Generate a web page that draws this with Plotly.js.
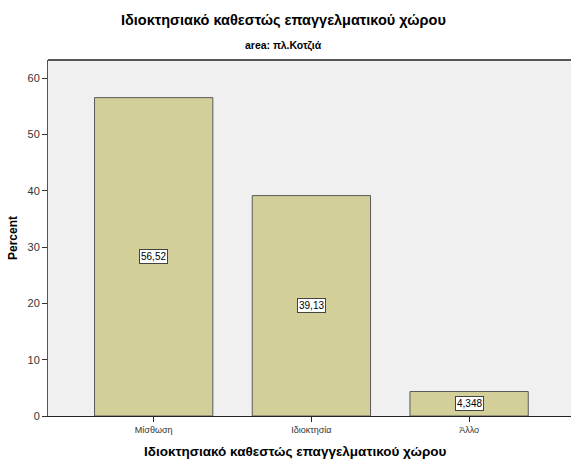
<!DOCTYPE html>
<html>
<head>
<meta charset="utf-8">
<script src="https://cdn.plot.ly/plotly-3.0.1.min.js"></script>
<style>html,body{margin:0;padding:0;background:#fff;}#chart{width:571px;height:459px;}</style>
</head>
<body>
<div id="chart"></div>
<script>
const categories = ["Μίσθωση", "Ιδιοκτησία", "Άλλο"];
const percents = [56.52, 39.13, 4.348];
const valueLabels = ["56,52", "39,13", "4,348"];
const yTicks = [0, 10, 20, 30, 40, 50, 60];

const trace = {
  type: 'bar',
  x: categories,
  y: percents,
  marker: { color: '#d3cf98', line: { color: '#5a5a5a', width: 1 } },
  hoverinfo: 'none'
};

const labelAnnotations = categories.map((c, i) => ({
  x: c, y: percents[i] / 2, xref: 'x', yref: 'y',
  text: valueLabels[i], showarrow: false,
  font: { family: 'Liberation Sans, Arial, sans-serif', size: 10, color: '#000' },
  bgcolor: '#ffffff', bordercolor: '#444', borderwidth: 1, borderpad: 1
}));

const layout = {
  width: 571, height: 459,
  margin: { l: 48, r: 0, t: 60, b: 43 },
  paper_bgcolor: '#ffffff',
  plot_bgcolor: '#f0f0f0',
  bargap: 0.25,
  showlegend: false,
  font: { family: 'Liberation Sans, Arial, sans-serif', color: '#222' },
  xaxis: {
    type: 'category',
    range: [-0.67, 2.646],
    showline: true, linecolor: '#222', linewidth: 1,
    ticks: 'outside', ticklen: 5, tickcolor: '#222',
    tickfont: { size: 9, color: '#333' },
    showgrid: false, zeroline: false, fixedrange: true
  },
  yaxis: {
    range: [0, 63.2],
    tickvals: yTicks,
    ticktext: yTicks.map(String),
    showline: true, linecolor: '#555', linewidth: 1,
    ticks: 'outside', ticklen: 5, tickcolor: '#333',
    tickfont: { size: 11, color: '#333' },
    showgrid: false, zeroline: false, fixedrange: true,
    title: { text: 'Percent', font: { size: 12, color: '#000', family: 'Liberation Sans, Arial, sans-serif', weight: 'bold' }, standoff: 7 }
  },
  shapes: [
    { type: 'line', xref: 'paper', yref: 'paper', x0: 0, x1: 1, y0: 1, y1: 1, line: { color: '#222', width: 1.5 } }
  ],
  annotations: labelAnnotations.concat([
    { xref: 'paper', yref: 'paper', x: 0.451, y: 1, yshift: 40, text: '<b>Ιδιοκτησιακό καθεστώς επαγγελματικού χώρου</b>', showarrow: false, xanchor: 'center', yanchor: 'middle', font: { size: 14.5, color: '#000' } },
    { xref: 'paper', yref: 'paper', x: 0.451, y: 1, yshift: 15, text: '<b>area: πλ.Κοτζιά</b>', showarrow: false, xanchor: 'center', yanchor: 'middle', font: { size: 10.5, color: '#000' } },
    { xref: 'paper', yref: 'paper', x: 0.474, y: 0, yshift: -35, text: '<b>Ιδιοκτησιακό καθεστώς επαγγελματικού χώρου</b>', showarrow: false, xanchor: 'center', yanchor: 'middle', font: { size: 13.5, color: '#000' } }
  ])
};

Plotly.newPlot('chart', [trace], layout, { displayModeBar: false, staticPlot: true });
</script>
</body>
</html>
